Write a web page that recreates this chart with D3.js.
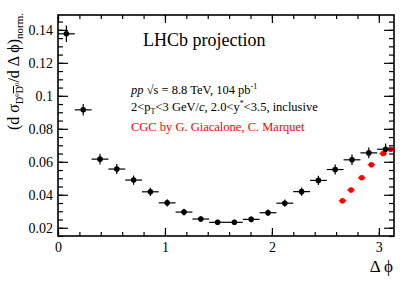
<!DOCTYPE html>
<html>
<head>
<meta charset="utf-8">
<script src="https://cdn.jsdelivr.net/npm/d3@7"></script>
<style>
  body { margin: 0; background: #fff; }
  svg { display: block; }
</style>
</head>
<body>
<svg id="chart" width="415" height="281"></svg>
<script>
// LHCb projection, D0 D0bar azimuthal correlation
const binWidth = Math.PI / 20;
const lhcbValues = [0.1376, 0.0915, 0.0616, 0.0556, 0.0489, 0.0418, 0.0351, 0.0295, 0.0253, 0.0233,
                    0.0233, 0.0251, 0.0291, 0.0349, 0.0419, 0.0487, 0.0553, 0.0612, 0.0654, 0.0676];
const lhcbErrors = [0.005, 0.0035, 0.0032, 0.003, 0.0028, 0.0025, 0.0022, 0.002, 0.0017, 0.0016,
                    0.0016, 0.0017, 0.002, 0.0022, 0.0025, 0.0028, 0.003, 0.0032, 0.0033, 0.0035];
const cgcX = [2.66, 2.74, 2.84, 2.93, 3.04, 3.11];
const cgcValues = [0.0364, 0.0429, 0.0503, 0.0582, 0.0650, 0.0676];
const xMajorTicks = [0, 1, 2, 3];
const yMajorTicks = [0.02, 0.04, 0.06, 0.08, 0.1, 0.12, 0.14];

const serif = '"Liberation Serif", "Times New Roman", serif';
const svg = d3.select('#chart').style('font-family', serif);
const padL = 58, padR = 394, padT = 15, padB = 236;

const x = d3.scaleLinear().domain([0, Math.PI]).range([padL, padR]);
const y = d3.scaleLinear().domain([0.015, 0.149]).range([padB, padT]);

const xMinor = d3.range(0, 3.15, 0.2);
const yMinor = d3.range(0.015, 0.1495, 0.005);

function styleAxis(g) {
    g.attr('font-family', null);
    g.select('.domain').remove();
    g.selectAll('line').attr('stroke', '#000').attr('stroke-width', 1.2);
    g.selectAll('text').attr('font-size', 14).attr('fill', '#000').style('font-family', serif);
}

// bottom
svg.append('g').attr('transform', `translate(0,${padB})`)
    .call(d3.axisBottom(x).tickValues(xMinor).tickSize(-4).tickFormat(''))
    .call(styleAxis);
svg.append('g').attr('transform', `translate(0,${padB})`)
    .call(d3.axisBottom(x).tickValues(xMajorTicks).tickSize(-8).tickPadding(6).tickFormat(d3.format('d')))
    .call(styleAxis);
// top
svg.append('g').attr('transform', `translate(0,${padT})`)
    .call(d3.axisTop(x).tickValues(xMinor).tickSize(-4).tickFormat(''))
    .call(styleAxis);
svg.append('g').attr('transform', `translate(0,${padT})`)
    .call(d3.axisTop(x).tickValues(xMajorTicks).tickSize(-8).tickFormat(''))
    .call(styleAxis);
// left
svg.append('g').attr('transform', `translate(${padL},0)`)
    .call(d3.axisLeft(y).tickValues(yMinor).tickSize(-5).tickFormat(''))
    .call(styleAxis);
svg.append('g').attr('transform', `translate(${padL},0)`)
    .call(d3.axisLeft(y).tickValues(yMajorTicks).tickSize(-10).tickPadding(5).tickFormat(d => d === 0.1 ? '0.1' : d3.format('.2f')(d)))
    .call(styleAxis);
// right
svg.append('g').attr('transform', `translate(${padR},0)`)
    .call(d3.axisRight(y).tickValues(yMinor).tickSize(-5).tickFormat(''))
    .call(styleAxis);
svg.append('g').attr('transform', `translate(${padR},0)`)
    .call(d3.axisRight(y).tickValues(yMajorTicks).tickSize(-10).tickFormat(''))
    .call(styleAxis);

svg.append('rect')
    .attr('x', padL).attr('y', padT)
    .attr('width', padR - padL).attr('height', padB - padT)
    .attr('fill', 'none').attr('stroke', '#000').attr('stroke-width', 1.6);

// CGC points (red)
const cgc = svg.append('g');
cgcX.forEach((cx, i) => {
    cgc.append('line')
        .attr('x1', x(cx - 0.035)).attr('x2', x(cx + 0.035))
        .attr('y1', y(cgcValues[i])).attr('y2', y(cgcValues[i]))
        .attr('stroke', '#ff0000').attr('stroke-width', 1.2);
    cgc.append('circle')
        .attr('cx', x(cx)).attr('cy', y(cgcValues[i])).attr('r', 2.8)
        .attr('fill', '#ff0000');
});

// LHCb points (black)
const pts = svg.append('g');
lhcbValues.forEach((v, i) => {
    const c = (i + 0.5) * binWidth;
    pts.append('line')
        .attr('x1', x(c - binWidth / 2)).attr('x2', x(c + binWidth / 2))
        .attr('y1', y(v)).attr('y2', y(v))
        .attr('stroke', '#000').attr('stroke-width', 1.2);
    pts.append('line')
        .attr('x1', x(c)).attr('x2', x(c))
        .attr('y1', y(v - lhcbErrors[i])).attr('y2', y(v + lhcbErrors[i]))
        .attr('stroke', '#000').attr('stroke-width', 1.2);
    pts.append('circle')
        .attr('cx', x(c)).attr('cy', y(v)).attr('r', 2.8)
        .attr('fill', '#000');
});

// texts
svg.append('text').attr('x', 143).attr('y', 46).style('font-family', serif)
    .attr('font-size', 18).text('LHCb projection');

const t1 = svg.append('text').attr('x', 131).attr('y', 94).attr('font-size', 12.5).style('font-family', serif);
t1.append('tspan').attr('font-style', 'italic').text('pp');
t1.append('tspan').text('  \u221As = 8.8 TeV, 104 pb');
t1.append('tspan').attr('dy', -5).attr('font-size', 8).text('-1');

const t2 = svg.append('text').attr('x', 131).attr('y', 111).attr('font-size', 12.5).style('font-family', serif);
t2.append('tspan').text('2<p');
t2.append('tspan').attr('dy', 3).attr('font-size', 8).text('T');
t2.append('tspan').attr('dy', -3).text('<3 GeV/');
t2.append('tspan').attr('font-style', 'italic').text('c');
t2.append('tspan').text(', 2.0<y');
t2.append('tspan').attr('dy', -5).attr('font-size', 8).text('*');
t2.append('tspan').attr('dy', 5).text('<3.5, inclusive');

svg.append('text').attr('x', 131).attr('y', 131).attr('font-size', 12.5).style('font-family', serif)
    .attr('fill', '#ff0000').text('CGC by G. Giacalone, C. Marquet');

// x title
svg.append('text').attr('x', 393).attr('y', 272).attr('text-anchor', 'end').style('font-family', serif)
    .attr('font-size', 17).text('\u0394 \u03D5');

// y title
const yt = svg.append('text')
    .attr('transform', 'translate(19,13) rotate(-90)').style('font-family', serif)
    .attr('text-anchor', 'end').attr('font-size', 16);
yt.append('tspan').text('(d \u03C3');
yt.append('tspan').attr('dy', 4).attr('font-size', 10).text('D');
yt.append('tspan').attr('dy', -4).attr('font-size', 7).text('0');
yt.append('tspan').attr('dy', 4).attr('font-size', 10).attr('text-decoration', 'overline').text('D');
yt.append('tspan').attr('dy', -4).attr('font-size', 7).text('0');
yt.append('tspan').attr('dy', 0).text('/d \u0394 \u03D5)');
yt.append('tspan').attr('dy', 4).attr('font-size', 11).text('norm.');
</script>
</body>
</html>
